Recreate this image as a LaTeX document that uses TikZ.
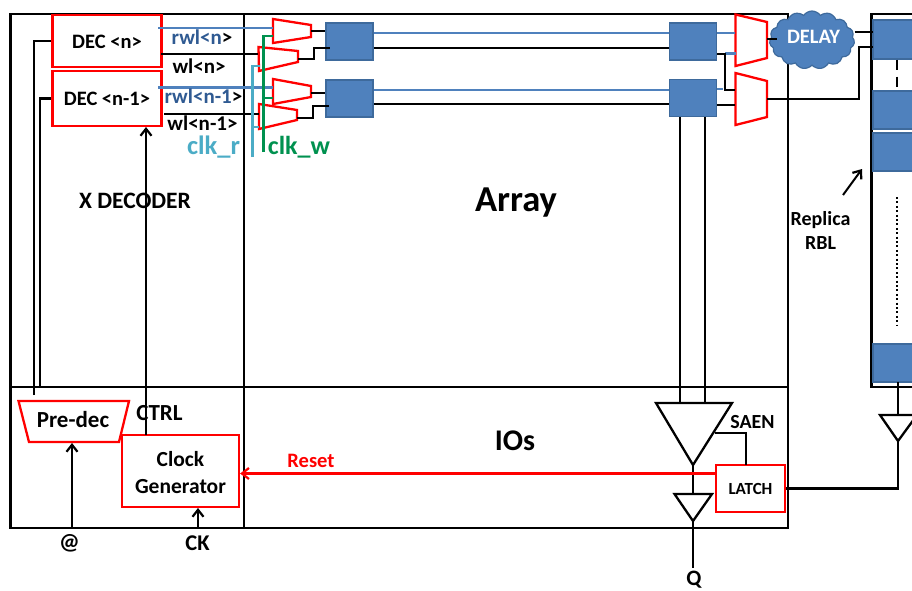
\documentclass[tikz,border=0pt]{standalone}
\usepackage{fontspec}
\setmainfont{Carlito}
\usetikzlibrary{shapes.symbols,arrows.meta}
\definecolor{cellblue}{HTML}{4F81BD}
\definecolor{celledge}{HTML}{3E6A9C}
\definecolor{wlblue}{HTML}{2F5A92}
\definecolor{clkr}{HTML}{4BACC6}
\definecolor{clkw}{HTML}{00914F}
\definecolor{redline}{HTML}{FF0000}
\tikzset{
  wire/.style={draw=black,line width=2.3pt},
  thinwire/.style={draw=black,line width=2pt},
  bluewire/.style={draw=cellblue,line width=2.2pt},
  clkrwire/.style={draw=clkr,line width=2.2pt},
  clkwwire/.style={draw=clkw,line width=2.2pt},
  redbox/.style={draw=redline,line width=2.3pt,inner sep=0pt,align=center},
  redpoly/.style={draw=redline,line width=2.3pt,line join=miter},
  cell/.style={draw=celledge,line width=1.2pt,fill=cellblue,inner sep=0pt,minimum width=47pt,minimum height=37pt},
  lab/.style={font=\bfseries\fontsize{20.5}{24}\selectfont,inner sep=0pt,align=center},
  wllab/.style={font=\bfseries\fontsize{21}{24}\selectfont,inner sep=0pt},
  biglab/.style={font=\bfseries\fontsize{36.5}{40}\selectfont,inner sep=0pt},
  ah/.style={-{Straight Barb[length=7pt,width=11pt,line width=2.2pt]}},
  tri/.style={draw=black,line width=2.3pt,line join=miter},
}
\newcommand{\polyfour}[9]{%
  \coordinate (#1a) at (#2,#3);\coordinate (#1b) at (#4,#5);
  \coordinate (#1c) at (#6,#7);\coordinate (#1d) at (#8,#9);
  \draw[redpoly] (#1a)--(#1b)--(#1c)--(#1d)--cycle;}
\begin{document}
\begin{tikzpicture}[x=1pt,y=-1pt]
\useasboundingbox (0,0) rectangle (912,590);
% frames
\coordinate (tl) at (10.5,14);\coordinate (tr) at (788,14);
\coordinate (bl) at (10.5,528);\coordinate (br) at (788,528);
\coordinate (ml) at (10.5,387);\coordinate (mr) at (788,387);
\coordinate (vt) at (244,14);\coordinate (vb) at (244,528);
\draw[wire] (tl)--(tr)--(br)--(bl)--cycle;
\draw[wire] (ml)--(mr);
\draw[wire] (vt)--(vb);
% replica frame
\coordinate (rt) at (871.5,14);\coordinate (rb) at (871.5,387);
\coordinate (rte) at (914,14);\coordinate (rbe) at (914,387);
\draw[wire] (rte)--(rt)--(rb)--(rbe);
% decoders
\node[redbox,minimum width=109pt,minimum height=52pt] (decn) at (107,41) {};
\node[redbox,minimum width=109pt,minimum height=55pt] (decm) at (107,98.5) {};
\node[lab] (decnl) at (107,42) {DEC <n>};
\node[lab] (decml) at (107,98.5) {DEC <n-1>};
% predecoder
\polyfour{pd}{18.5}{401}{129}{401}{119}{442}{29}{442}
\node[lab,font=\bfseries\fontsize{23}{26}\selectfont] (predec) at (73,420) {Pre-dec};
\coordinate (pdb) at (72,443);
\coordinate (atin) at (72,527);
\draw[wire,ah] (atin)--(pdb);
\coordinate (p1) at (34,395);\coordinate (p2) at (40,387);
\draw[wire] (p1)|-(decn.west);
\draw[wire] (p2)|-(decm.west);
% clock generator
\node[redbox,minimum width=117pt,minimum height=72pt] (clk) at (180.5,471) {};
\node[lab,font=\bfseries\fontsize{21.5}{27}\selectfont] (clkl) at (180.5,472.5) {Clock\\Generator};
\coordinate (ckin) at (198,527);
\coordinate (cks) at (198,508);
\draw[wire,ah] (ckin)--(cks);
\coordinate (ctrls) at (146,435);\coordinate (ctrle) at (146,127);
\draw[wire,ah] (ctrls)--(ctrle);
% muxes left
\polyfour{ma}{273}{19}{311}{25}{311}{37}{273}{43}
\polyfour{mb}{258.5}{47}{298}{51}{298}{62}{259}{71}
\polyfour{mc}{273}{79}{311}{86}{311}{97}{273}{104}
\polyfour{md}{259}{104}{297}{110}{297}{120}{259}{129}
% cells
\node[cell] (c1) at (349.5,41.5) {};
\node[cell] (c2) at (349.5,98.5) {};
\node[cell] (c3) at (693,41.5) {};
\node[cell] (c4) at (693,98) {};
% word lines
\coordinate (r1s) at (158,28);\coordinate (r1e) at (273,28);
\coordinate (r2s) at (158,87.5);\coordinate (r2e) at (273,87.5);
\coordinate (w1s) at (161,54);\coordinate (w1e) at (258,54);
\coordinate (w2s) at (164,114);\coordinate (w2e) at (259,114);
\draw[bluewire] (r1s)--(r1e);
\draw[bluewire] (r2s)--(r2e);
\draw[wire] (w1s)--(w1e);
\draw[wire] (w2s)--(w2e);
% clk lines
\coordinate (clkrs) at (252.5,157);\coordinate (clkrt) at (260,66);\coordinate (clkrb) at (259,127);
\draw[clkrwire] (clkrs)|-(clkrt);
\draw[clkrwire] (252.5,127)--(clkrb);
\coordinate (clkws) at (263.5,152);\coordinate (clkwt) at (273,36);\coordinate (clkwb) at (273,98);
\draw[clkwwire] (clkws)|-(clkwt);
\draw[clkwwire] (263.5,98)--(clkwb);
% mux to cell
\draw[wire] (311,31)--(c1.west |- 311,31);
\draw[wire] (298,59)-|(314,48)--(330,48);
\draw[wire] (311,93)--(c2.west |- 311,93);
\draw[wire] (297,118)-|(313,106)--(329,106);
% bit lines
\draw[bluewire] (c1.east |- 0,33)--(c3.west |- 0,33);
\draw[wire] (c1.east |- 0,48)--(c3.west |- 0,48);
\draw[bluewire] (c2.east |- 0,90)--(c4.west |- 0,90);
\draw[wire] (c2.east |- 0,104)--(c4.west |- 0,104);
% right muxes
\polyfour{me}{735.5}{14.5}{767}{22}{767}{58}{735.5}{66}
\polyfour{mf}{735.5}{73}{767}{81}{767}{117}{735.5}{125}
\draw[bluewire] (c3.east |- 0,33)--(735,33);
\draw[bluewire] (725,53.5)--(736,53.5);
\draw[wire] (c3.east |- 0,54)-|(725,90)--(735,90);
\draw[bluewire] (c4.east |- 0,89)--(723,89);
\draw[wire] (c4.east |- 0,105)--(735,105);
% delay
\node[cloud,cloud puffs=15,cloud puff arc=110,aspect=1.5,draw=celledge,line width=1.2pt,fill=cellblue,inner sep=0pt,minimum width=85pt,minimum height=58pt] (delay) at (812,40) {};
\node[font=\bfseries\fontsize{20.5}{24}\selectfont,text=white,inner sep=0pt] (delayl) at (813.5,37) {DELAY};
\coordinate (me out) at (767,39);
\draw[wire] (me out)--(777,39);
% replica cells
\node[cell,minimum width=50pt,minimum height=39pt] (rc1) at (898,39.5) {};
\node[cell,minimum width=50pt,minimum height=38pt] (rc2) at (898,110) {};
\node[cell,minimum width=50pt,minimum height=38pt] (rc3) at (898,152) {};
\node[cell,minimum width=50pt,minimum height=38pt] (rc4) at (898,363) {};
\draw[wire] (delay.east |- 0,32)--(873,32);
\draw[wire] (767,99)-|(859,47)--(873,47);
\draw[wire,dash pattern=on 10pt off 7pt] (rc1.south -| 897,0)--(rc2.north -| 897,0);
\draw[wire,dash pattern=on 2pt off 2.4pt] (897,197)--(897,325);
% replica arrow
\coordinate (rbla) at (843,195);\coordinate (rblb) at (862,169);
\draw[thinwire,ah] (rbla)--(rblb);
\node[lab,font=\bfseries\fontsize{20}{24}\selectfont] (rbl) at (820.5,230) {Replica\\RBL};
% sense amp
\coordinate (sa1) at (656,403);\coordinate (sa2) at (732,403);\coordinate (sa3) at (693,465);
\draw[tri] (sa1)--(sa2)--(sa3)--cycle;
\draw[wire] (c4.south -| 680,0)--(680,403);
\draw[wire] (c4.south -| 705,0)--(705,403);
% output inverter
\coordinate (i1) at (674.5,494);\coordinate (i2) at (712,494);\coordinate (i3) at (693,521);
\draw[tri] (i1)--(i2)--(i3)--cycle;
\coordinate (qo) at (693,568);
\draw[wire] (sa3)--(693,494);
\draw[wire] (i3)--(qo);
% latch
\node[redbox,minimum width=69pt,minimum height=47pt,font=\bfseries\fontsize{17}{20}\selectfont] (latch) at (750.5,488.5) {LATCH};
\draw[thinwire] (715,433)-|(746,465);
% replica inverter
\coordinate (j1) at (880,415);\coordinate (j2) at (917,415);\coordinate (j3) at (898,441);
\draw[tri] (j1)--(j2)--(j3)--cycle;
\draw[wire] (898,382)--(898,415);
\draw[wire] (latch.east)-|(j3);
% reset
\draw[draw=redline,line width=2.3pt,ah] (latch.west |- 0,473.5)--(clk.east |- 0,473.5);
% labels
\node[wllab] (rwl1) at (202,37) {\textcolor{wlblue}{rwl<n}>};
\node[wllab] (wl1) at (199,66) {wl<n>};
\node[wllab] (rwl2) at (203.5,96) {\textcolor{wlblue}{rwl<n-1}>};
\node[wllab] (wl2) at (202.5,123) {wl<n-1>};
\node[font=\bfseries\fontsize{26.5}{28}\selectfont,text=clkr,inner sep=0pt] (clkrl) at (213.5,147) {clk\_r};
\node[font=\bfseries\fontsize{26}{28}\selectfont,text=clkw,inner sep=0pt] (clkwl) at (299,147) {clk\_w};
\node[lab,font=\bfseries\fontsize{23.5}{26}\selectfont] (xdec) at (135,201) {X DECODER};
\node[biglab] (arr) at (516,203) {Array};
\node[lab,font=\bfseries\fontsize{23}{26}\selectfont] (ctrl) at (159.5,413) {CTRL};
\node[biglab,font=\bfseries\fontsize{30}{34}\selectfont] (ios) at (515,441) {IOs};
\node[lab,text=redline] (reset) at (311,461) {Reset};
\node[lab,font=\bfseries\fontsize{20}{24}\selectfont] (saen) at (752.5,422) {SAEN};
\node[lab,font=\bfseries\fontsize{23}{26}\selectfont] (atl) at (69.5,543) {@};
\node[lab,font=\bfseries\fontsize{22.5}{26}\selectfont] (ckl) at (197.5,543) {CK};
\node[lab,font=\bfseries\fontsize{22}{24}\selectfont] (ql) at (694,579.5) {Q};
\end{tikzpicture}
\end{document}
